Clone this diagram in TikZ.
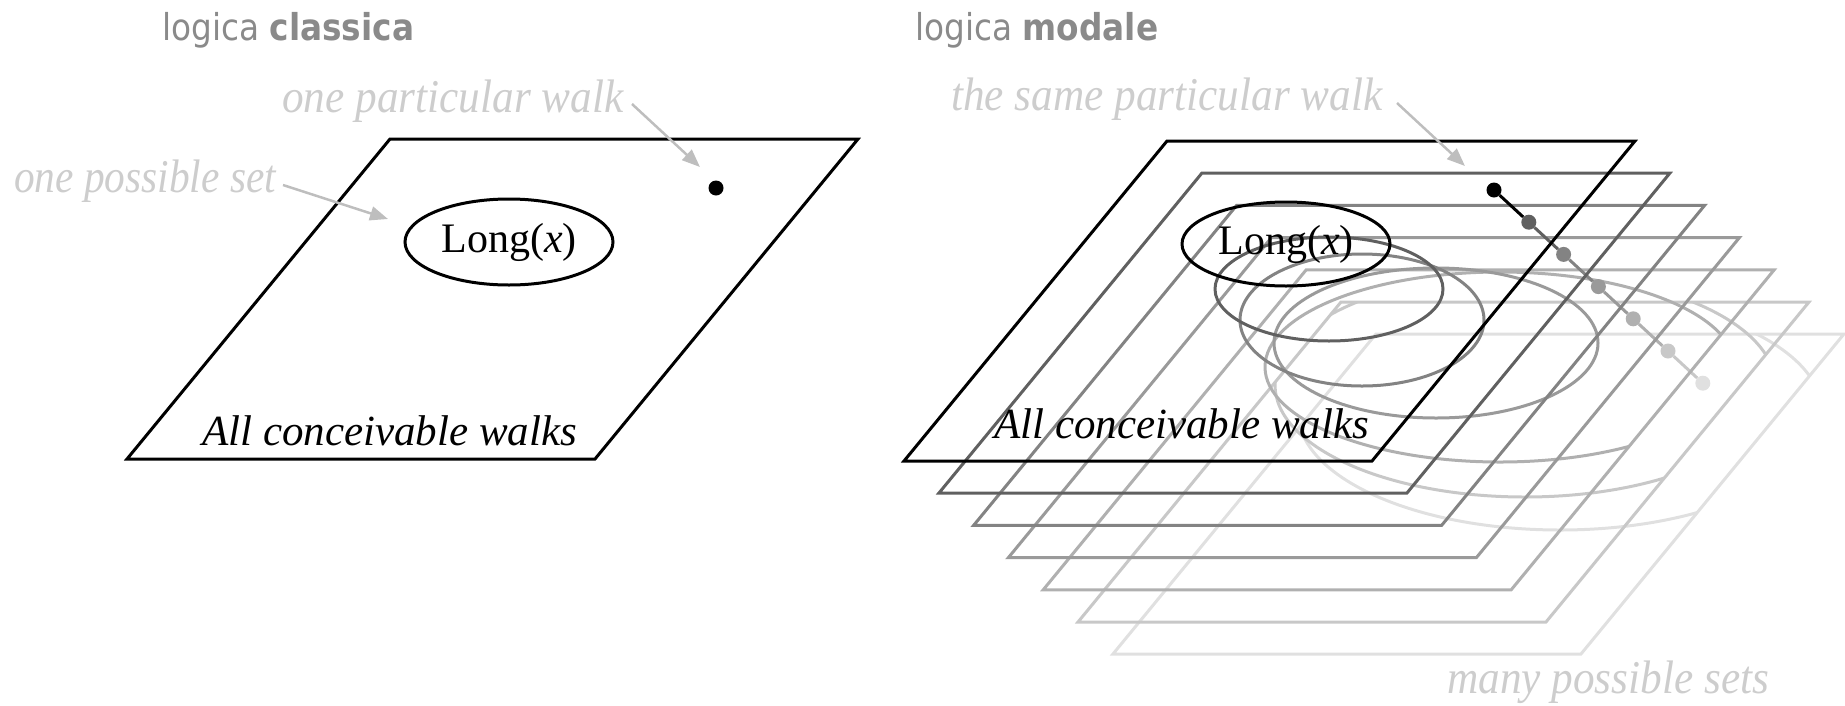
\documentclass[tikz,border=0pt]{standalone}
\usepackage{fontspec}
\usepackage{graphicx}
\setmainfont{Liberation Serif}
\newfontfamily\titlefont{DejaVu Sans}
\usetikzlibrary{arrows.meta}
\definecolor{titlegray}{HTML}{8A8A8A}
\definecolor{lblgray}{HTML}{CDCDCD}
\definecolor{arrgray}{HTML}{BEBEBE}
\definecolor{pc0}{HTML}{000000}
\definecolor{pc1}{HTML}{606060}
\definecolor{pc2}{HTML}{838383}
\definecolor{pc3}{HTML}{9A9A9A}
\definecolor{pc4}{HTML}{B0B0B0}
\definecolor{pc5}{HTML}{C8C8C8}
\definecolor{pc6}{HTML}{E0E0E0}
\tikzset{
  planeline/.style={line width=3pt, line join=miter},
  titlelbl/.style={anchor=base west, inner sep=0pt, text=titlegray, font=\titlefont\fontsize{37}{40}\selectfont},
  graylbl/.style={anchor=base west, inner sep=0pt, text=lblgray, font=\fontsize{47}{50}\selectfont\itshape},
  callout/.style={draw=arrgray, line width=2.5pt, -{Triangle[length=18pt,width=14pt]}},
  walkdot/.style={circle, inner sep=0pt, minimum size=15pt},
  longlbl/.style={inner sep=0pt, font=\fontsize{42}{44}\selectfont},
  alllbl/.style={anchor=base west, inner sep=0pt, font=\fontsize{43}{45}\selectfont\itshape},
}
\begin{document}
\begin{tikzpicture}[x=1pt,y=-1pt]
\useasboundingbox (0,0) rectangle (1845,705);
% ---------- left: classical logic ----------
\node[titlelbl] (t1) at (162,40) {\scalebox{0.885}[1]{logica \textbf{classica}}};
\draw[planeline] (127,459) -- (595,459) -- (858,139) -- (390,139) -- cycle;
\draw[line width=3pt] (509,242) ellipse [x radius=104, y radius=43];
\node[longlbl] (long1) at (509,242) {Long(\textit{x})};
\node[walkdot, fill=black] (wdL) at (716,188) {};
\node[alllbl] (all1) at (202,445) {All conceivable walks};
\node[graylbl] (lblwalk) at (282,112) {\scalebox{0.92}[1]{one particular walk}};
\node[graylbl] (lblset) at (14,192) {\scalebox{0.88}[1]{one possible set}};
\coordinate (tailA) at (632,104);
\coordinate (tipA) at (700,167);
\coordinate (tailB) at (283,185);
\coordinate (tipB) at (388,219);
\draw[callout] (tailA) -- (tipA);
\draw[callout] (tailB) -- (tipB);
% ---------- right: modal logic ----------
\node[titlelbl] (t2) at (915,40) {\scalebox{0.885}[1]{logica \textbf{modale}}};
\foreach \k/\cx/\cy/\rx/\ry in {6/1560/412/262/118, 5/1525/385/250/112, 4/1500/367/235/95, 3/1436/343/162/75, 2/1362/320/122/66, 1/1329/289/114/52, 0/1286/244/104/42} {
  \pgfmathsetmacro\bx{904+34.8*\k}
  \pgfmathsetmacro\by{461+32.2*\k}
  \pgfmathtruncatemacro\kk{\k+1}
  \draw[planeline, pc\k] (\bx,\by) -- ++(468,0) -- ++(263,-320) -- ++(-468,0) -- cycle;
  \begin{scope}
    \clip (\bx,\by) -- ++(468,0) -- ++(263,-320) -- ++(-468,0) -- cycle;
    \draw[line width=3pt, pc\k] (\cx,\cy) ellipse [x radius=\rx, y radius=\ry];
  \end{scope}
  \node[walkdot, fill=pc\k] (wd\k) at ({\bx+590},{\by-271}) {};
  \ifnum\k<6 \draw[line width=3pt, pc\k] (wd\k) -- (wd\kk); \fi
}
\node[longlbl] (long2) at (1286,244) {Long(\textit{x})};
\node[alllbl] (all2) at (994,438) {All conceivable walks};
\node[graylbl] (lblsame) at (951,110) {\scalebox{0.92}[1]{the same particular walk}};
\node[graylbl] (lblmany) at (1447,693) {\scalebox{0.92}[1]{many possible sets}};
\coordinate (tailC) at (1397,103);
\coordinate (tipC) at (1465,166);
\draw[callout] (tailC) -- (tipC);
\end{tikzpicture}
\end{document}
